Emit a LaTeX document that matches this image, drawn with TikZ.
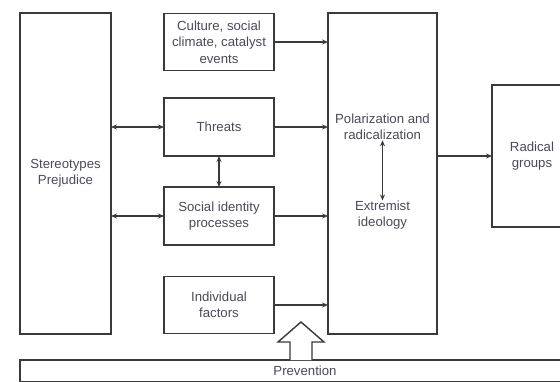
\documentclass[tikz,border=0pt]{standalone}
\usepackage{fontspec}
\setmainfont{Liberation Sans}
\usetikzlibrary{arrows.meta}
\definecolor{ln}{HTML}{3A3A3A}
\definecolor{tx}{HTML}{4A4A5A}
\tikzset{
  box/.style={draw=ln, line width=1.4pt, inner sep=0pt, outer sep=0pt, rectangle, text=tx, align=center,
    font=\fontsize{13.2}{16.5}\selectfont},
  lbl/.style={text=tx, align=center, inner sep=2pt, font=\fontsize{13.2}{16.5}\selectfont},
  conn/.style={draw=ln, line width=1.4pt, -{Stealth[length=6pt,width=5pt,inset=2pt]}},
  dconn/.style={draw=ln, line width=1.4pt, {Stealth[length=6pt,width=5pt,inset=2pt]}-{Stealth[length=6pt,width=5pt,inset=2pt]}},
  blockarrow/.style={draw=ln, line width=1.4pt, fill=white, line join=miter}
}
\begin{document}
\begin{tikzpicture}[x=1pt,y=-1pt]
\useasboundingbox (0,0) rectangle (560,382);
\clip (0,0) rectangle (560,382);
\fill[white] (0,0) rectangle (560,382);
% boxes
\node[box, minimum width=91pt, minimum height=321pt] (st) at (65.5,173.5) {Stereotypes\\Prejudice};
\node[box, minimum width=110pt, minimum height=57pt] (cul) at (219,42) {Culture, social\\climate, catalyst\\events};
\node[box, minimum width=110pt, minimum height=58pt] (thr) at (219,127) {Threats};
\node[box, minimum width=110pt, minimum height=58pt] (soc) at (219,216) {Social identity\\processes};
\node[box, minimum width=110pt, minimum height=57pt] (ind) at (219,305) {Individual\\factors};
\node[box, minimum width=109pt, minimum height=321pt] (pol) at (382.5,173.5) {};
\node[lbl] (p1) at (382.5,127) {Polarization and\\radicalization};
\node[lbl] (p2) at (382.5,215) {Extremist\\ideology};
\node[box, minimum width=80pt, minimum height=142pt] (rad) at (532,156) {Radical\\groups};
\node[box, minimum width=570pt, minimum height=21.5pt] (prev) at (305,370.75) {Prevention};
% connectors
\draw[conn] (cul.east) -- (cul.east -| pol.west);
\draw[conn] (thr.east) -- (thr.east -| pol.west);
\draw[conn] (soc.east) -- (soc.east -| pol.west);
\draw[conn] (ind.east) -- (ind.east -| pol.west);
\draw[dconn] (st.east |- thr.west) -- (thr.west);
\draw[dconn] (st.east |- soc.west) -- (soc.west);
\draw[dconn] (thr.south) -- (soc.north);
\draw[dconn] ([yshift=2pt]p1.south) -- ([yshift=-2pt]p2.north);
\draw[conn] (pol.east |- rad.west) -- (rad.west);
% block arrow from prevention
\draw[blockarrow] (prev.north -| 290,0) -- (290,342) -- (278,342) -- (301,322) -- (324,342) -- (312,342) -- (prev.north -| 312,0);
\end{tikzpicture}
\end{document}
